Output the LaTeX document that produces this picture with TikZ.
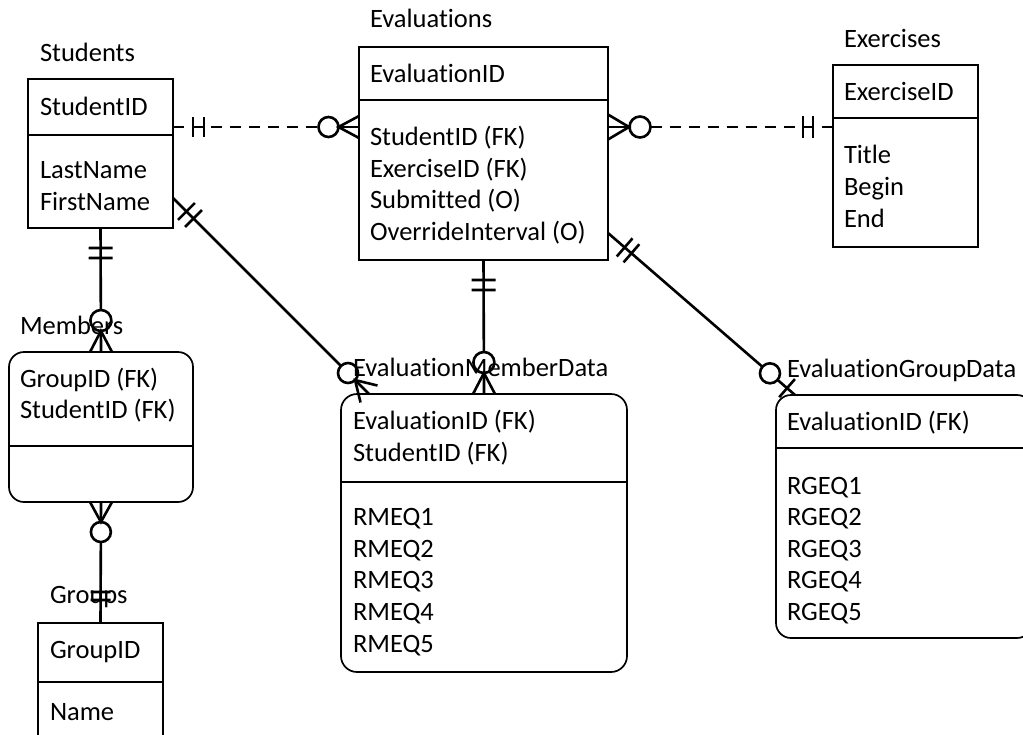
\documentclass[tikz,border=0pt]{standalone}
\usepackage{fontspec}
\setmainfont{Carlito}[Ligatures={NoCommon}]
\usetikzlibrary{calc}
\newcommand\erfont{\fontsize{26.5}{32}\selectfont}
% bar across the line from #1 toward #2, at distance #3, half length #4
\newcommand\erbar[4]{\path ($(#1)!#3!(#2)$) coordinate (erT);
  \draw[conn] ($(erT)!#4!90:(#2)$) -- ($(erT)!#4!-90:(#2)$);}
% circle on the line from #1 toward #2, centre at distance #3, radius #4
\newcommand\ercirc[4]{\path ($(#1)!#3!(#2)$) coordinate (erT);
  \draw[conn] (erT) circle[radius=#4];}
% crow's foot at end #1 (line toward #2), length #3, spread #4
\newcommand\ercrow[4]{\path ($(#1)!#3!(#2)$) coordinate (erA);
  \draw[conn] ($(#1)!#4!90:(#2)$) -- (erA) -- ($(#1)!#4!-90:(#2)$);
  \draw[conn] (#1) -- (erA);}
% segment of the line from #1 toward #2, between #3 and #4
\newcommand\erseg[5]{\draw[conn,#5] ($(#1)!#3!(#2)$) -- ($(#1)!#4!(#2)$);}
\begin{document}
\begin{tikzpicture}[x=1pt, y=-1pt,
  conn/.style={line width=2.6pt},
  dsh/.style={dash pattern=on 11pt off 8pt},
  box/.style={draw, line width=1.7pt, inner sep=0pt, outer sep=0pt, anchor=north west},
  divider/.style={line width=1.7pt},
  txt/.style={anchor=base west, inner sep=0pt, outer sep=0pt, font=\erfont}]
\useasboundingbox (0,0) rectangle (1023,734);
\clip (0,0) rectangle (1023,734);

% ---------- entity boxes ----------
\node[box, minimum width=145pt, minimum height=149pt] (students) at (28,79) {};
\node[box, minimum width=249pt, minimum height=213pt] (evals) at (359,47) {};
\node[box, minimum width=145pt, minimum height=182pt] (exer) at (833,65) {};
\node[box, rounded corners=15pt, minimum width=184pt, minimum height=150pt] (members) at (9,352) {};
\node[box, minimum width=125pt, minimum height=140pt] (groups) at (38,623) {};
\node[box, rounded corners=16pt, minimum width=286pt, minimum height=278pt] (emd) at (341,394) {};
\node[box, rounded corners=15pt, minimum width=256pt, minimum height=243pt] (egd) at (776,395) {};

% dividers
\draw[divider] (students.west |- 0,135) -- (students.east |- 0,135);
\draw[divider] (evals.west |- 0,100) -- (evals.east |- 0,100);
\draw[divider] (exer.west |- 0,118) -- (exer.east |- 0,118);
\draw[divider] (members.west |- 0,446) -- (members.east |- 0,446);
\draw[divider] (groups.west |- 0,682) -- (groups.east |- 0,682);
\draw[divider] (emd.west |- 0,482) -- (emd.east |- 0,482);
\draw[divider] (egd.west |- 0,448) -- (egd.east |- 0,448);

% ---------- texts ----------
\node[txt] (tStudents) at (40,61) {Students};
\node[txt] (s1) at (40,115) {StudentID};
\node[txt] (s2) at (40,178) {LastName};
\node[txt] (s3) at (40,210) {FirstName};

\node[txt] (tEvals) at (370,27) {Evaluations};
\node[txt] (e1) at (370,82) {EvaluationID};
\node[txt] (e2) at (370,145) {StudentID (FK)};
\node[txt] (e3) at (370,177) {ExerciseID (FK)};
\node[txt] (e4) at (370,208) {Submitted (O)};
\node[txt] (e5) at (370,240) {OverrideInterval (O)};

\node[txt] (tExer) at (844,47) {Exercises};
\node[txt] (x1) at (844,100) {ExerciseID};
\node[txt] (x2) at (844,163) {Title};
\node[txt] (x3) at (844,195) {Begin};
\node[txt] (x4) at (844,227) {End};

\node[txt] (tMembers) at (20,334) {Members};
\node[txt] (m1) at (20,387) {GroupID (FK)};
\node[txt] (m2) at (20,418) {StudentID (FK)};

\node[txt] (tGroups) at (50,603) {Groups};
\node[txt] (g1) at (50,658) {GroupID};
\node[txt] (g2) at (50,720) {Name};

\node[txt] (tEMD) at (353,376) {EvaluationMemberData};
\node[txt] (d1) at (353,429) {EvaluationID (FK)};
\node[txt] (d2) at (353,461) {StudentID (FK)};
\foreach \i/\y in {1/525,2/557,3/588,4/620,5/652}
  \node[txt] (dq\i) at (353,\y) {RMEQ\i};

\node[txt] (tEGD) at (787,377) {EvaluationGroupData};
\node[txt] (f1) at (787,430) {EvaluationID (FK)};
\foreach \i/\y in {1/494,2/525,3/557,4/588,5/620}
  \node[txt] (fq\i) at (787,\y) {RGEQ\i};

% ---------- connectors ----------
% Students -- Evaluations (dashed)
\coordinate (c1a) at (students.east |- 0,127);
\coordinate (c1b) at (evals.west |- 0,127);
\erseg{c1a}{c1b}{0pt}{145.5pt}{dsh}
\ercirc{c1a}{c1b}{155.5pt}{10pt}
\ercrow{c1b}{c1a}{20.5pt}{11pt}
\erbar{c1a}{c1b}{20pt}{10pt}
\erbar{c1a}{c1b}{31pt}{10pt}

% Evaluations -- Exercises (dashed)
\coordinate (c2a) at (evals.east |- 0,127);
\coordinate (c2b) at (exer.west |- 0,127);
\ercrow{c2a}{c2b}{21pt}{12.5pt}
\ercirc{c2a}{c2b}{32pt}{10.5pt}
\erseg{c2a}{c2b}{42.5pt}{1}{dsh}
\erbar{c2b}{c2a}{20pt}{11pt}
\erbar{c2b}{c2a}{30pt}{11pt}

% Students -- Members
\erbar{students.south}{members.north}{20pt}{12pt}
\erbar{students.south}{members.north}{30pt}{12pt}
\erseg{students.south}{members.north}{0pt}{82pt}{}
\ercirc{students.south}{members.north}{92.5pt}{10.5pt}
\ercrow{members.north}{students.south}{21pt}{11pt}

% Members -- Groups
\ercrow{members.south}{groups.north}{20pt}{11pt}
\ercirc{members.south}{groups.north}{30pt}{10pt}
\erseg{members.south}{groups.north}{40pt}{1}{}
\erbar{groups.north}{members.south}{23pt}{10pt}
\erbar{groups.north}{members.south}{31pt}{10pt}

% Evaluations -- EvaluationMemberData
\erbar{evals.south}{emd.north}{20pt}{12pt}
\erbar{evals.south}{emd.north}{30pt}{12pt}
\erseg{evals.south}{emd.north}{0pt}{92pt}{}
\ercirc{evals.south}{emd.north}{102.5pt}{10.5pt}
\ercrow{emd.north}{evals.south}{21pt}{11pt}

% Students -- EvaluationMemberData
\coordinate (c6a) at (students.east |- 0,198);
\coordinate (c6b) at ($(emd.north west)+(28,0)$);
\erbar{c6a}{c6b}{19pt}{12pt}
\erbar{c6a}{c6b}{29pt}{12pt}
\erseg{c6a}{c6b}{0pt}{237.5pt}{}
\ercirc{c6a}{c6b}{247.5pt}{10pt}
\ercrow{c6b}{c6a}{19.7pt}{12pt}

% Evaluations -- EvaluationGroupData
\coordinate (c7a) at (evals.east |- 0,233);
\coordinate (c7b) at ($(egd.north west)+(19,0)$);
\erbar{c7a}{c7b}{22pt}{12pt}
\erbar{c7a}{c7b}{31pt}{12pt}
\erseg{c7a}{c7b}{0pt}{204.3pt}{}
\ercirc{c7a}{c7b}{214.3pt}{10pt}
\erseg{c7a}{c7b}{224.3pt}{1}{}
\erbar{c7b}{c7a}{10.5pt}{12pt}
\end{tikzpicture}
\end{document}
